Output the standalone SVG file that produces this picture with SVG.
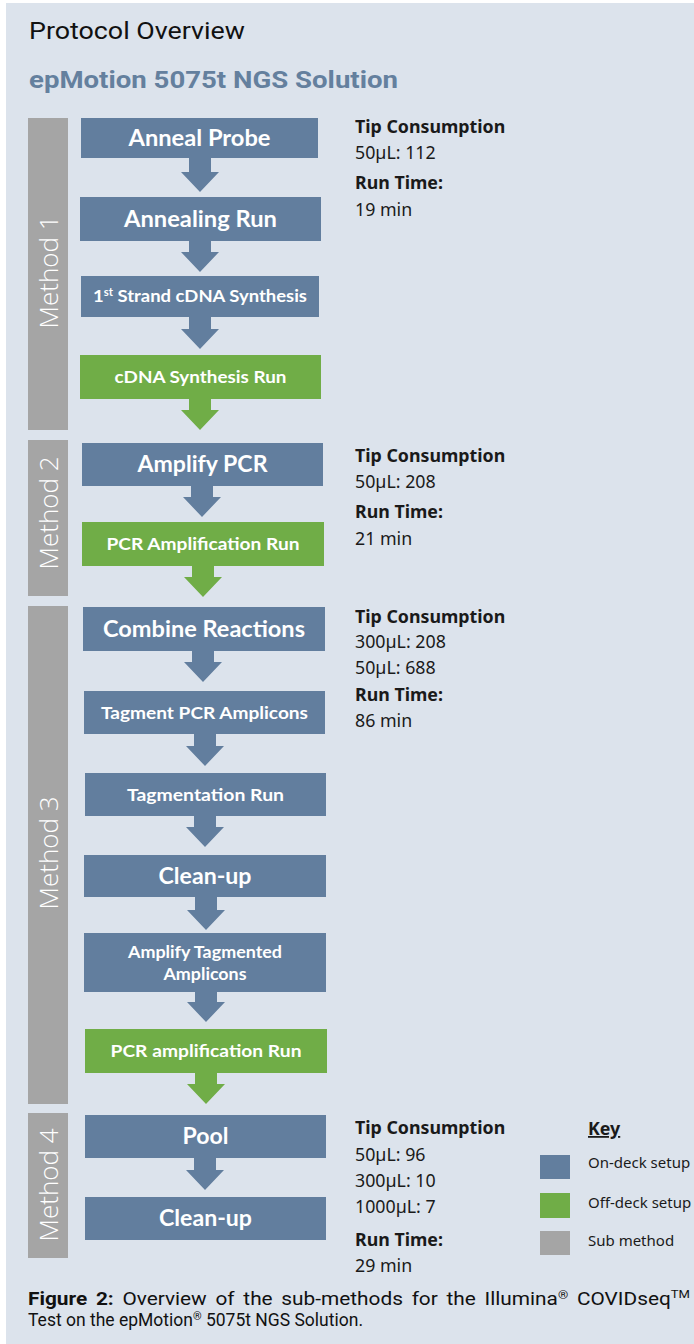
<svg xmlns="http://www.w3.org/2000/svg" width="694" height="1344" viewBox="0 0 694 1344">
<defs>
<style>
.bg{fill:#dce3ec}
.on{fill:#627e9e}
.off{fill:#70ad47}
.sub{fill:#a5a5a5}
.bt{font-family:Lato,"Open Sans","Liberation Sans",sans-serif;font-weight:700;fill:#ffffff;text-anchor:middle}
.mt{font-family:"Open Sans","Liberation Sans",sans-serif;font-weight:300;font-size:26px;fill:#ffffff;text-anchor:middle;dominant-baseline:central}
.rb{font-family:"Noto Sans","Open Sans","Liberation Sans",sans-serif;font-weight:700;font-size:17.8px;fill:#1a1a1a}
.rt{font-family:"Noto Sans","Open Sans","Liberation Sans",sans-serif;font-weight:400;font-size:17.8px;fill:#1a1a1a}
.kt{font-family:"Noto Sans","Open Sans","Liberation Sans",sans-serif;font-size:15px;fill:#1a1a1a}
.cap{font-family:Roboto,"Liberation Sans",sans-serif;font-size:17.5px;fill:#111111}
</style>
</defs>
<rect x="0" y="0" width="694" height="1344" fill="#ffffff"/>
<rect class="bg" x="6" y="3" width="688" height="1341"/>
<text x="29" y="39" font-family="Roboto,'Liberation Sans',sans-serif" font-size="24" fill="#111111" textLength="216" lengthAdjust="spacingAndGlyphs">Protocol Overview</text>
<text x="29" y="88" font-family="Roboto,'Liberation Sans',sans-serif" font-weight="700" font-size="24" fill="#64809e" textLength="369" lengthAdjust="spacingAndGlyphs">epMotion 5075t NGS Solution</text>

<g id="method1"><rect class="sub" x="28" y="118" width="40" height="312"/><text class="mt" transform="translate(48,272) rotate(-90)">Method 1</text></g>
<g id="method2"><rect class="sub" x="28" y="440" width="40" height="156"/><text class="mt" transform="translate(48,513) rotate(-90)">Method 2</text></g>
<g id="method3"><rect class="sub" x="28" y="606" width="40" height="498"/><text class="mt" transform="translate(48,853) rotate(-90)">Method 3</text></g>
<g id="method4"><rect class="sub" x="28" y="1113" width="40" height="145"/><text class="mt" transform="translate(48,1185) rotate(-90)">Method 4</text></g>

<g id="connectors">
<polygon class="on" points="189,158 211,158 211,172 219,172 200,192 181,172 189,172"/>
<polygon class="on" points="189,241 211,241 211,252 219,252 200,272 181,252 189,252"/>
<polygon class="on" points="189,317 211,317 211,329 219,329 200,349 181,329 189,329"/>
<polygon class="off" points="189,399 211,399 211,410 219,410 200,430 181,410 189,410"/>
<polygon class="on" points="191,486 213,486 213,497 221,497 202,517 183,497 191,497"/>
<polygon class="off" points="192,566 214,566 214,577 222,577 203,597 184,577 192,577"/>
<polygon class="on" points="192,651 214,651 214,662 222,662 203,682 184,662 192,662"/>
<polygon class="on" points="194,734 216,734 216,746 224,746 205,766 186,746 194,746"/>
<polygon class="on" points="194,816 216,816 216,827 224,827 205,847 186,827 194,827"/>
<polygon class="on" points="195,897 217,897 217,910 225,910 206,930 187,910 195,910"/>
<polygon class="on" points="195,992 217,992 217,1002 225,1002 206,1022 187,1002 195,1002"/>
<polygon class="off" points="195,1073 217,1073 217,1084 225,1084 206,1104 187,1084 195,1084"/>
<polygon class="on" points="194,1158 216,1158 216,1170 224,1170 205,1190 186,1170 194,1170"/>
</g>

<g id="anneal-probe"><rect class="on" x="81" y="118" width="237" height="40"/><text class="bt" x="199.5" y="146" font-size="22" textLength="142" lengthAdjust="spacingAndGlyphs">Anneal Probe</text></g>
<g id="annealing-run"><rect class="on" x="80" y="197" width="241" height="44"/><text class="bt" x="200.5" y="227" font-size="22" textLength="153" lengthAdjust="spacingAndGlyphs">Annealing Run</text></g>
<g id="first-strand"><rect class="on" x="81" y="276" width="238" height="41"/><text class="bt" x="200" y="302" font-size="17" textLength="214" lengthAdjust="spacingAndGlyphs">1<tspan font-size="10.5" dy="-6">st</tspan><tspan dy="6"> Strand cDNA Synthesis</tspan></text></g>
<g id="cdna-run"><rect class="off" x="80" y="355" width="241" height="44"/><text class="bt" x="200.5" y="383" font-size="17" textLength="172" lengthAdjust="spacingAndGlyphs">cDNA Synthesis Run</text></g>

<g id="amplify-pcr"><rect class="on" x="82" y="443" width="241" height="43"/><text class="bt" x="202.5" y="472" font-size="22" textLength="130" lengthAdjust="spacingAndGlyphs">Amplify PCR</text></g>
<g id="pcr-amp-run"><rect class="off" x="82" y="522" width="242" height="44"/><text class="bt" x="203" y="550" font-size="17" textLength="193" lengthAdjust="spacingAndGlyphs">PCR Amplification Run</text></g>

<g id="combine-reactions"><rect class="on" x="83" y="607" width="242" height="44"/><text class="bt" x="204" y="637" font-size="22" textLength="202" lengthAdjust="spacingAndGlyphs">Combine Reactions</text></g>
<g id="tagment-pcr"><rect class="on" x="84" y="691" width="241" height="43"/><text class="bt" x="204.5" y="719" font-size="17" textLength="207" lengthAdjust="spacingAndGlyphs">Tagment PCR Amplicons</text></g>
<g id="tagmentation-run"><rect class="on" x="85" y="773" width="241" height="43"/><text class="bt" x="205.5" y="801" font-size="17" textLength="157" lengthAdjust="spacingAndGlyphs">Tagmentation Run</text></g>
<g id="clean-up-1"><rect class="on" x="84" y="855" width="242" height="42"/><text class="bt" x="205" y="884" font-size="22" textLength="93" lengthAdjust="spacingAndGlyphs">Clean-up</text></g>
<g id="amplify-tagmented"><rect class="on" x="84" y="933" width="242" height="59"/><text class="bt" x="205" y="958" font-size="17" textLength="154" lengthAdjust="spacingAndGlyphs">Amplify Tagmented</text><text class="bt" x="205" y="980" font-size="17" textLength="83" lengthAdjust="spacingAndGlyphs">Amplicons</text></g>
<g id="pcr-amplification-run"><rect class="off" x="85" y="1029" width="242" height="44"/><text class="bt" x="206" y="1057" font-size="17" textLength="191" lengthAdjust="spacingAndGlyphs">PCR amplification Run</text></g>

<g id="pool"><rect class="on" x="85" y="1115" width="241" height="43"/><text class="bt" x="205.5" y="1144" font-size="22" textLength="46" lengthAdjust="spacingAndGlyphs">Pool</text></g>
<g id="clean-up-2"><rect class="on" x="85" y="1197" width="241" height="43"/><text class="bt" x="205.5" y="1226" font-size="22" textLength="93" lengthAdjust="spacingAndGlyphs">Clean-up</text></g>

<g id="info1">
<text class="rb" x="355" y="133">Tip Consumption</text>
<text class="rt" x="355" y="159">50µL: 112</text>
<text class="rb" x="355" y="189">Run Time:</text>
<text class="rt" x="355" y="216">19 min</text>
</g>
<g id="info2">
<text class="rb" x="355" y="462">Tip Consumption</text>
<text class="rt" x="355" y="488">50µL: 208</text>
<text class="rb" x="355" y="518">Run Time:</text>
<text class="rt" x="355" y="545">21 min</text>
</g>
<g id="info3">
<text class="rb" x="355" y="623">Tip Consumption</text>
<text class="rt" x="355" y="648">300µL: 208</text>
<text class="rt" x="355" y="674">50µL: 688</text>
<text class="rb" x="355" y="701">Run Time:</text>
<text class="rt" x="355" y="727">86 min</text>
</g>
<g id="info4">
<text class="rb" x="355" y="1134">Tip Consumption</text>
<text class="rt" x="355" y="1161">50µL: 96</text>
<text class="rt" x="355" y="1187">300µL: 10</text>
<text class="rt" x="355" y="1213">1000µL: 7</text>
<text class="rb" x="355" y="1246">Run Time:</text>
<text class="rt" x="355" y="1272">29 min</text>
</g>

<g id="key">
<text class="rb" x="588" y="1135" font-size="16.5" text-decoration="underline">Key</text>
<rect class="on" x="540" y="1155" width="30" height="24"/>
<text class="kt" x="588" y="1168">On-deck setup</text>
<rect class="off" x="540" y="1193" width="30" height="25"/>
<text class="kt" x="588" y="1208">Off-deck setup</text>
<rect class="sub" x="540" y="1231" width="30" height="24"/>
<text class="kt" x="588" y="1246">Sub method</text>
</g>

<g id="caption">
<text class="cap" x="28" y="1305" font-size="18" word-spacing="3" textLength="662" lengthAdjust="spacingAndGlyphs"><tspan font-weight="700">Figure 2:</tspan> Overview of the sub-methods for the Illumina<tspan font-size="11" dy="-6">®</tspan><tspan dy="6"> COVIDseq</tspan><tspan font-size="11" dy="-7">TM</tspan></text>
<text class="cap" x="28" y="1326">Test on the epMotion<tspan font-size="11" dy="-6">®</tspan><tspan dy="6"> 5075t NGS Solution.</tspan></text>
</g>
</svg>
